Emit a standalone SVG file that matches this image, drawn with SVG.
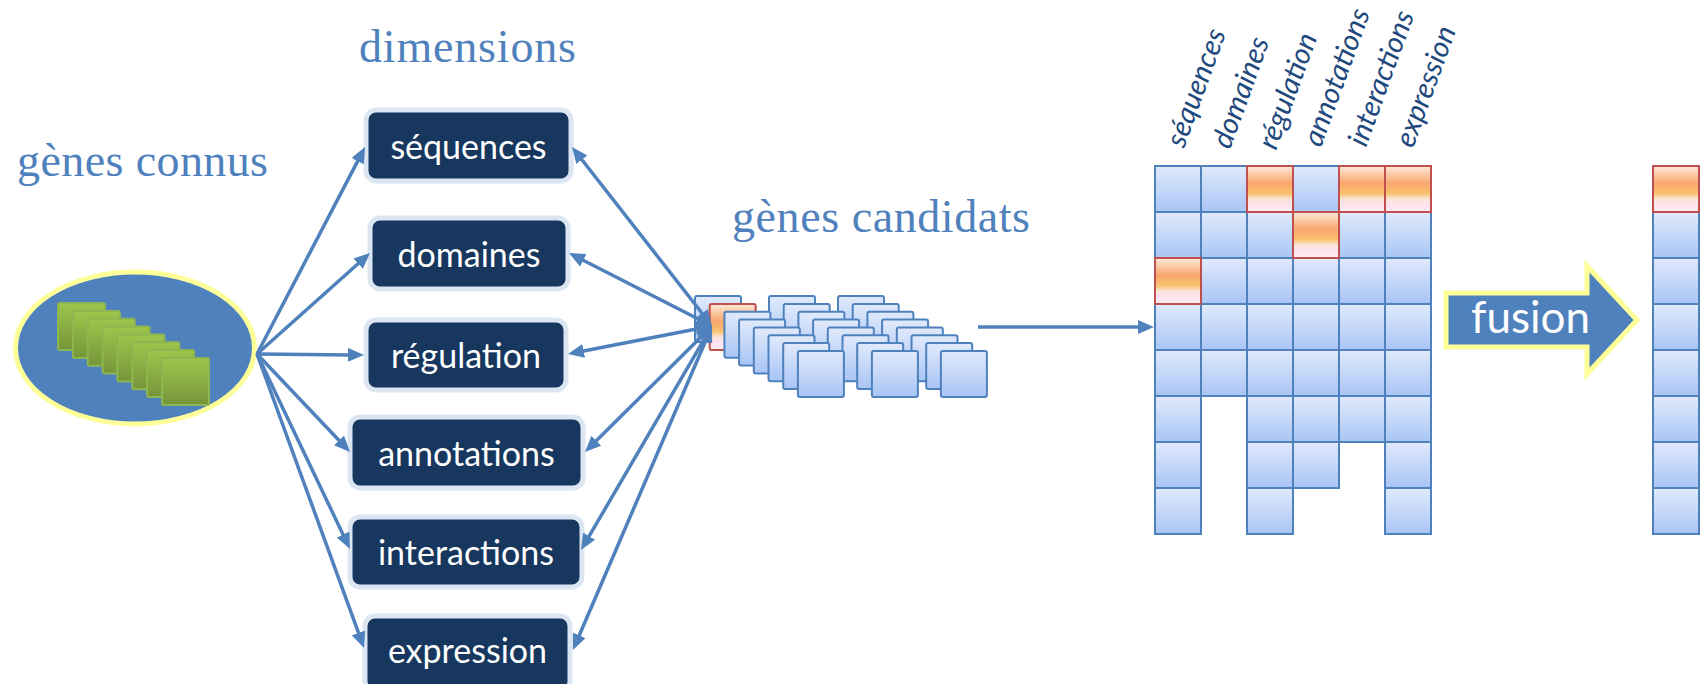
<svg xmlns="http://www.w3.org/2000/svg" width="1705" height="684" viewBox="0 0 1705 684">
<style>
.title{font-family:"Liberation Serif",serif;font-size:46px;fill:#4F81BD}
.box rect{fill:#17375E;stroke:#DCE6F2;stroke-width:5}
.box text{font-family:Lato,"Open Sans",sans-serif;font-size:34px;fill:#FFFFFF;text-anchor:middle}
.lbl{font-family:Lato,"Open Sans",sans-serif;font-style:italic;font-size:29px;fill:#1F497D}
.cell{fill:url(#gBlue);stroke:#4F81BD;stroke-width:2}
.hot{fill:url(#gOrange);stroke:#C0504D;stroke-width:2}
.sq{fill:url(#gBlue);stroke:#4F81BD;stroke-width:2}
.sqh{fill:url(#gOrange);stroke:#C0504D;stroke-width:2}
.gsq{fill:url(#gGreen);stroke:#8DB650;stroke-width:2}
.conn{stroke:#4F81BD;stroke-width:3.5;fill:none}
</style>
<defs>
<linearGradient id="gBlue" x1="0" y1="0" x2="0" y2="1">
<stop offset="0" stop-color="#E1EAFC"/><stop offset="1" stop-color="#A8C5F5"/>
</linearGradient>
<linearGradient id="gOrange" x1="0" y1="0" x2="0" y2="1">
<stop offset="0" stop-color="#FCE8DC"/><stop offset="0.15" stop-color="#FCCFAE"/><stop offset="0.38" stop-color="#F9A66E"/><stop offset="0.6" stop-color="#F9C26E"/><stop offset="0.72" stop-color="#FCE6DA"/><stop offset="0.82" stop-color="#FDE2EC"/><stop offset="1" stop-color="#FDEBF1"/>
</linearGradient>
<linearGradient id="gGreen" x1="0" y1="0" x2="0" y2="1">
<stop offset="0" stop-color="#9DC64B"/><stop offset="1" stop-color="#76953A"/>
</linearGradient>
<marker id="ah" viewBox="0 0 16 14" refX="4" refY="7" markerWidth="16" markerHeight="14" markerUnits="userSpaceOnUse" orient="auto-start-reverse">
<path d="M0,0 L16,7 L0,14 z" fill="#4F81BD"/>
</marker>
</defs>
<rect width="1705" height="684" fill="#FFFFFF"/>

<g id="titles">
<text class="title" x="359" y="62" textLength="217" lengthAdjust="spacing">dimensions</text>
<text class="title" x="17" y="176" textLength="251" lengthAdjust="spacing">gènes connus</text>
<text class="title" x="732" y="232" textLength="298" lengthAdjust="spacing">gènes candidats</text>
</g>

<g id="genes-connus">
<ellipse cx="135" cy="348" rx="119.5" ry="76" fill="#4F81BD" stroke="#FFFF99" stroke-width="5"/>
<rect class="gsq" x="58" y="303" width="47" height="47" rx="2"/>
<rect class="gsq" x="72.9" y="310.9" width="47" height="47" rx="2"/>
<rect class="gsq" x="87.7" y="318.7" width="47" height="47" rx="2"/>
<rect class="gsq" x="102.6" y="326.6" width="47" height="47" rx="2"/>
<rect class="gsq" x="117.4" y="334.4" width="47" height="47" rx="2"/>
<rect class="gsq" x="132.3" y="342.3" width="47" height="47" rx="2"/>
<rect class="gsq" x="147.1" y="350.1" width="47" height="47" rx="2"/>
<rect class="gsq" x="162" y="358" width="47" height="47" rx="2"/>
</g>

<g id="dim-sequences" class="box"><rect x="366" y="110" width="205" height="71" rx="10"/><text x="468.5" y="159">séquences</text></g>
<g id="dim-domaines" class="box"><rect x="370" y="218" width="198" height="71" rx="10"/><text x="469" y="266.5">domaines</text></g>
<g id="dim-regulation" class="box"><rect x="366" y="320" width="200" height="70" rx="10"/><text x="466" y="368">régulation</text></g>
<g id="dim-annotations" class="box"><rect x="350" y="417" width="233" height="71" rx="10"/><text x="466.5" y="465.5">annotations</text></g>
<g id="dim-interactions" class="box"><rect x="350" y="517" width="232" height="70" rx="10"/><text x="466" y="565">interactions</text></g>
<g id="dim-expression" class="box"><rect x="365" y="616" width="205" height="75" rx="10"/><text x="467.5" y="663">expression</text></g>

<g id="genes-candidats">
<rect class="sq" x="695" y="296" width="46" height="46" rx="2"/>
<rect class="sq" x="769" y="296" width="46" height="46" rx="2"/>
<rect class="sq" x="838" y="296" width="46" height="46" rx="2"/>
<rect class="sqh" x="709.7" y="303.9" width="46" height="46" rx="2"/>
<rect class="sq" x="783.7" y="303.9" width="46" height="46" rx="2"/>
<rect class="sq" x="852.7" y="303.9" width="46" height="46" rx="2"/>
<rect class="sq" x="724.4" y="311.7" width="46" height="46" rx="2"/>
<rect class="sq" x="798.4" y="311.7" width="46" height="46" rx="2"/>
<rect class="sq" x="867.4" y="311.7" width="46" height="46" rx="2"/>
<rect class="sq" x="739.1" y="319.6" width="46" height="46" rx="2"/>
<rect class="sq" x="813.1" y="319.6" width="46" height="46" rx="2"/>
<rect class="sq" x="882.1" y="319.6" width="46" height="46" rx="2"/>
<rect class="sq" x="753.8" y="327.4" width="46" height="46" rx="2"/>
<rect class="sq" x="827.8" y="327.4" width="46" height="46" rx="2"/>
<rect class="sq" x="896.8" y="327.4" width="46" height="46" rx="2"/>
<rect class="sq" x="768.5" y="335.3" width="46" height="46" rx="2"/>
<rect class="sq" x="842.5" y="335.3" width="46" height="46" rx="2"/>
<rect class="sq" x="911.5" y="335.3" width="46" height="46" rx="2"/>
<rect class="sq" x="783.2" y="343.1" width="46" height="46" rx="2"/>
<rect class="sq" x="857.2" y="343.1" width="46" height="46" rx="2"/>
<rect class="sq" x="926.2" y="343.1" width="46" height="46" rx="2"/>
<rect class="sq" x="797.9" y="351" width="46" height="46" rx="2"/>
<rect class="sq" x="871.9" y="351" width="46" height="46" rx="2"/>
<rect class="sq" x="940.9" y="351" width="46" height="46" rx="2"/>
</g>

<g id="matrix-labels">
<text class="lbl" transform="translate(1184,149) rotate(-70)">séquences</text>
<text class="lbl" transform="translate(1230,150) rotate(-70)">domaines</text>
<text class="lbl" transform="translate(1276,151) rotate(-70)">régulation</text>
<text class="lbl" transform="translate(1321,148) rotate(-70)">annotations</text>
<text class="lbl" transform="translate(1366,148) rotate(-70)">interactions</text>
<text class="lbl" transform="translate(1413,149) rotate(-70)">expression</text>
</g>

<g id="matrix">
<rect class="cell" x="1155" y="166" width="46" height="46"/>
<rect class="cell" x="1155" y="212" width="46" height="46"/>
<rect class="cell" x="1155" y="304" width="46" height="46"/>
<rect class="cell" x="1155" y="350" width="46" height="46"/>
<rect class="cell" x="1155" y="396" width="46" height="46"/>
<rect class="cell" x="1155" y="442" width="46" height="46"/>
<rect class="cell" x="1155" y="488" width="46" height="46"/>
<rect class="cell" x="1201" y="166" width="46" height="46"/>
<rect class="cell" x="1201" y="212" width="46" height="46"/>
<rect class="cell" x="1201" y="258" width="46" height="46"/>
<rect class="cell" x="1201" y="304" width="46" height="46"/>
<rect class="cell" x="1201" y="350" width="46" height="46"/>
<rect class="cell" x="1247" y="212" width="46" height="46"/>
<rect class="cell" x="1247" y="258" width="46" height="46"/>
<rect class="cell" x="1247" y="304" width="46" height="46"/>
<rect class="cell" x="1247" y="350" width="46" height="46"/>
<rect class="cell" x="1247" y="396" width="46" height="46"/>
<rect class="cell" x="1247" y="442" width="46" height="46"/>
<rect class="cell" x="1247" y="488" width="46" height="46"/>
<rect class="cell" x="1293" y="166" width="46" height="46"/>
<rect class="cell" x="1293" y="258" width="46" height="46"/>
<rect class="cell" x="1293" y="304" width="46" height="46"/>
<rect class="cell" x="1293" y="350" width="46" height="46"/>
<rect class="cell" x="1293" y="396" width="46" height="46"/>
<rect class="cell" x="1293" y="442" width="46" height="46"/>
<rect class="cell" x="1339" y="212" width="46" height="46"/>
<rect class="cell" x="1339" y="258" width="46" height="46"/>
<rect class="cell" x="1339" y="304" width="46" height="46"/>
<rect class="cell" x="1339" y="350" width="46" height="46"/>
<rect class="cell" x="1339" y="396" width="46" height="46"/>
<rect class="cell" x="1385" y="212" width="46" height="46"/>
<rect class="cell" x="1385" y="258" width="46" height="46"/>
<rect class="cell" x="1385" y="304" width="46" height="46"/>
<rect class="cell" x="1385" y="350" width="46" height="46"/>
<rect class="cell" x="1385" y="396" width="46" height="46"/>
<rect class="cell" x="1385" y="442" width="46" height="46"/>
<rect class="cell" x="1385" y="488" width="46" height="46"/>
<rect class="hot" x="1155" y="258" width="46" height="46"/>
<rect class="hot" x="1247" y="166" width="46" height="46"/>
<rect class="hot" x="1293" y="212" width="46" height="46"/>
<rect class="hot" x="1339" y="166" width="46" height="46"/>
<rect class="hot" x="1385" y="166" width="46" height="46"/>
</g>

<g id="fusion">
<path d="M1446,293 L1587,293 L1587,266 L1637,320 L1587,374 L1587,347 L1446,347 Z" fill="#4F81BD" stroke="#FFFF99" stroke-width="5"/>
<text x="1471" y="333" style="font-family:Lato,'Open Sans',sans-serif;font-size:44px;fill:#FFFFFF">fusion</text>
</g>

<g id="result">
<rect class="cell" x="1653" y="212" width="46" height="46"/>
<rect class="cell" x="1653" y="258" width="46" height="46"/>
<rect class="cell" x="1653" y="304" width="46" height="46"/>
<rect class="cell" x="1653" y="350" width="46" height="46"/>
<rect class="cell" x="1653" y="396" width="46" height="46"/>
<rect class="cell" x="1653" y="442" width="46" height="46"/>
<rect class="cell" x="1653" y="488" width="46" height="46"/>
<rect class="hot" x="1653" y="166" width="46" height="46"/>
</g>

<g id="connectors">
<line class="conn" x1="257" y1="354" x2="359.5" y2="157.6" marker-end="url(#ah)"/>
<line class="conn" x1="257" y1="354" x2="361.1" y2="261" marker-end="url(#ah)"/>
<line class="conn" x1="257" y1="354" x2="352" y2="354.9" marker-end="url(#ah)"/>
<line class="conn" x1="257" y1="354" x2="341.7" y2="443.3" marker-end="url(#ah)"/>
<line class="conn" x1="257" y1="354" x2="344.8" y2="538.2" marker-end="url(#ah)"/>
<line class="conn" x1="257" y1="354" x2="359.9" y2="636.7" marker-end="url(#ah)"/>
<line class="conn" x1="704.6" y1="316.5" x2="579.4" y2="156.5" marker-start="url(#ah)" marker-end="url(#ah)"/>
<line class="conn" x1="701.3" y1="320.5" x2="579.7" y2="258.5" marker-start="url(#ah)" marker-end="url(#ah)"/>
<line class="conn" x1="700.2" y1="328.3" x2="579.8" y2="351.7" marker-start="url(#ah)" marker-end="url(#ah)"/>
<line class="conn" x1="703.5" y1="334.5" x2="593.5" y2="443.6" marker-start="url(#ah)" marker-end="url(#ah)"/>
<line class="conn" x1="705.9" y1="336.4" x2="587.1" y2="539.6" marker-start="url(#ah)" marker-end="url(#ah)"/>
<line class="conn" x1="707.3" y1="337" x2="577.7" y2="639" marker-start="url(#ah)" marker-end="url(#ah)"/>
<line class="conn" x1="978" y1="327" x2="1142" y2="327" stroke-width="4" marker-end="url(#ah)"/>
</g>
</svg>
